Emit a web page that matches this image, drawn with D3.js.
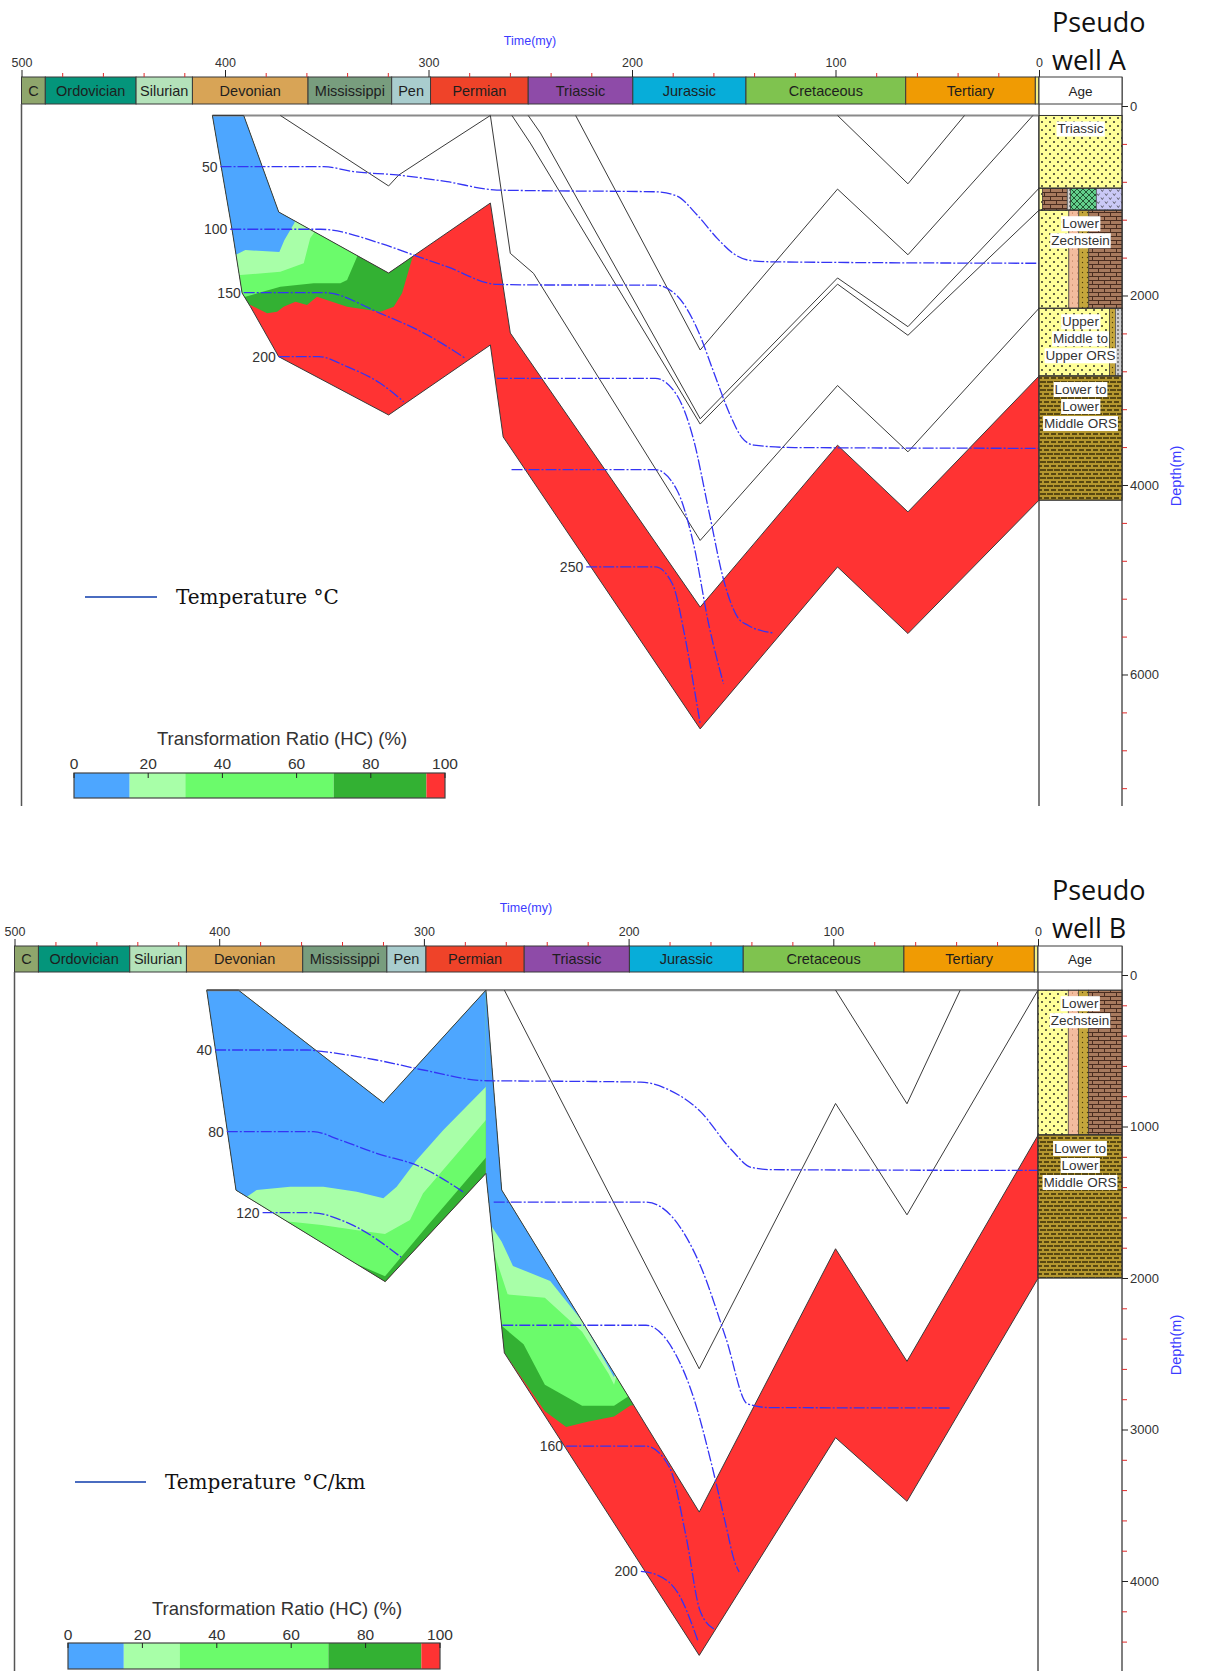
<!DOCTYPE html>
<html>
<head>
<meta charset="utf-8">
<script src="https://cdn.jsdelivr.net/npm/d3@7"></script>
<style>
  body { margin: 0; background: #fff; }
  svg { display: block; }
</style>
</head>
<body>
<svg id="chart" width="1206" height="1671"></svg>
<script>
// ---------- shared stratigraphy ----------
const periods = [
  { name: "C",           start: 500,   end: 488.3, color: "#8fa66c" },
  { name: "Ordovician",  start: 488.3, end: 443.7, color: "#04957b" },
  { name: "Silurian",    start: 443.7, end: 416,   color: "#b4e2ba" },
  { name: "Devonian",    start: 416,   end: 359.2, color: "#d8a456" },
  { name: "Mississippi", start: 359.2, end: 318.1, color: "#789d7e" },
  { name: "Pen",         start: 318.1, end: 299,   color: "#a9cdce" },
  { name: "Permian",     start: 299,   end: 251,   color: "#ef4329" },
  { name: "Triassic",    start: 251,   end: 199.6, color: "#8e4ba8" },
  { name: "Jurassic",    start: 199.6, end: 144,   color: "#07add9" },
  { name: "Cretaceous",  start: 144,   end: 65.5,  color: "#7fc34f" },
  { name: "Tertiary",    start: 65.5,  end: 1.8,   color: "#f09b03" },
  { name: "",            start: 1.8,   end: 0,     color: "#f3ee86" }
];
const timeTicks = [500, 400, 300, 200, 100, 0];
const timeMinorStep = 20;

// transformation ratio classes (%)
const trBreaks = [15, 30, 70, 95];
const trColors = ["#4da6ff", "#a8ffa8", "#6bfb6b", "#33b133", "#ff3333"];
const trTicks = [0, 20, 40, 60, 80, 100];

// ---------- Pseudo well A (time Ma, depth m) ----------
const wellA_surface = 100;
const wellA_sourceTop = [[390.8,100],[373.6,1119],[319.6,1763],[269.6,1024],[259.8,2396],[166.5,5289],[99,3580],[64.4,4284],[0,2850]];
const wellA_sourceBase = [[406.2,100],[396.5,1309],[391.6,1974],[387.5,2118],[373.6,2646],[319.6,3261],[269.6,2522],[263.3,3493],[166.5,6574],[99,4865],[64.4,5568],[0,4160]];
const wellA_horizons = [
  [[372.8,100],[319.6,844],[314.6,728],[295.8,464],[269.6,100]],
  [[269.6,100],[259.8,1555],[248.4,1766],[166.5,4585],[99,2950],[64.4,3650],[0,2135]],
  [[259,100],[250,391],[166.5,3357],[99,1880],[64.4,2420],[0,1100]],
  [[251,100],[245,285],[166.5,3301],[99,1815],[64.4,2329],[0,868]],
  [[227.7,100],[166.5,2575],[99,877],[64.4,1570],[3,100]],
  [[99,100],[64.4,821],[36.6,100]]
];
// zone boundaries: the TR class holds above each line
const wellA_trZones = [
  { tr: 80, pts: [[420,2100],[387.5,2100],[379.3,2188],[374.4,2171],[371.2,2118],[365.4,2065],[359.7,2100],[354.8,2013],[340,2118],[323.6,2171],[317.1,2118],[313,1977],[307.3,1555],[306,1450]] },
  { tr: 50, pts: [[420,2013],[390,2013],[372.8,1907],[364.6,1889],[356.4,1871],[343.3,1871],[340,1836],[335.1,1590],[334,1500]] },
  { tr: 20, pts: [[420,1784],[392.4,1784],[372.8,1749],[361.3,1660],[358.1,1393],[356.4,1344],[355.5,1280]] },
  { tr: 5,  pts: [[420,1573],[394.9,1573],[390,1520],[373.3,1541],[370.8,1414],[365.9,1235],[365,1150]] }
];
const wellA_isotherms = [
  { label: "50",  pts: [[402.2,640],[351.5,640],[336.8,693],[315.5,728],[290.9,799],[266.4,887],[245.1,894],[188.6,905],[178,950],[168,1150],[158,1400],[150,1560],[142,1630],[130,1645],[0,1660]] },
  { label: "100", pts: [[397.4,1301],[353.1,1301],[323.7,1449],[307.3,1573],[290.9,1696],[266.4,1882],[245.1,1889],[188.6,1890],[178,2000],[168,2350],[160,2800],[152,3250],[146,3500],[140,3580],[120,3605],[0,3613]] },
  { label: "150", pts: [[390.8,1970],[351.5,1970],[323.7,2188],[299.1,2434],[281.9,2663]] },
  { label: "",    pts: [[266.4,2874],[188.6,2874],[178,3050],[170,3500],[162,4300],[155,5000],[148,5400],[143,5480],[131,5560]] },
  { label: "200", pts: [[373.6,2646],[354,2646],[340,2751],[323.7,2927],[312.2,3121]] },
  { label: "",    pts: [[259.2,3837],[188.6,3837],[178,4050],[170,4600],[162,5500],[155,6100]] },
  { label: "250", pts: [[222.5,4865],[188.6,4865],[180,5050],[174,5600],[169,6200],[166.5,6520]] }
];
const wellA_units = [
  { name: "Triassic", top: 100, base: 868, label: ["Triassic"], mix: [["sandstone",100]] },
  { name: "Upper Zechstein", top: 868, base: 1100, label: [], mix: [["sandstone",4],["limestone",30],["conglomerate",4],["halite",31],["anhydrite",31]] },
  { name: "Lower Zechstein", top: 1100, base: 2135, label: ["Lower","Zechstein"], mix: [["sandstone",36],["siltstone",12],["marl",12],["limestone",40]] },
  { name: "Upper Middle to Upper ORS", top: 2135, base: 2850, label: ["Upper","Middle to","Upper ORS"], mix: [["sandstone",85],["marl",7],["conglomerate",8]] },
  { name: "Lower to Lower Middle ORS", top: 2850, base: 4160, label: ["Lower to","Lower","Middle ORS"], mix: [["shale",100]] }
];
const wellA_depthTicks = [0, 2000, 4000, 6000];
const wellA_depthMinorStep = 400;

// ---------- Pseudo well B ----------
const wellB_surface = 100;
const wellB_sourceTop = [[390.6,100],[319.8,843],[269.7,100],[262,1419],[165.5,3545],[98.9,1807],[64,2550],[0,1058]];
const wellB_sourceBase = [[406.1,100],[391.8,1420],[318.9,2024],[269.7,1310],[260.7,2494],[165.5,4491],[98.9,3054],[64,3474],[0,2003]];
const wellB_horizons = [
  [[260.7,100],[165.5,2599],[98.9,848],[64,1583],[0,100]],
  [[98.9,100],[64,850],[38,100]]
];
const wellB_trZones = [
  { tr: 80, pts: [[420,6000],[269.7,6000]] },
  { tr: 50, pts: [[420,1898],[334.5,1898],[319,1989],[298.2,1653],[269.7,1205]] },
  { tr: 20, pts: [[420,1618],[372,1618],[350,1650],[330,1690],[319,1710],[306.8,1617],[300.4,1441],[269.7,957]] },
  { tr: 5,  pts: [[420,1472],[387.4,1472],[381.7,1419],[365.4,1397],[349.1,1397],[332.8,1430],[319.8,1474],[313.3,1397],[303.5,1221],[290.5,1023],[269.7,737]] },
  { tr: 80, pts: [[269.7,2300],[260.7,2494],[240.9,2879],[230.5,2984],[220.1,2949],[207.1,2914],[199.3,2844],[194,2830]] },
  { tr: 50, pts: [[269.7,2100],[261.7,2319],[251.3,2438],[240.9,2704],[222.7,2844],[207.1,2844],[199.3,2774],[197,2700]] },
  { tr: 20, pts: [[269.7,1700],[265.9,1828],[259.1,2108],[240.9,2130],[222.7,2354],[209.7,2634],[207.1,2704],[205,2600]] },
  { tr: 5,  pts: [[269.7,1600],[262,1760],[256.5,1920],[238.3,2020],[222.7,2283],[207.1,2655],[205,2550]] }
];
const wellB_isotherms = [
  { label: "40",  pts: [[402,495],[357.3,495],[349.1,506],[323.1,561],[300.3,627],[269.3,698],[248.2,700],[194,707],[180,760],[165,900],[150,1150],[140,1270],[130,1285],[0,1290]] },
  { label: "80",  pts: [[396.3,1034],[354,1034],[341,1089],[323.1,1177],[301.9,1265],[279.9,1440]] },
  { label: "",    pts: [[265.9,1499],[191.5,1499],[178.5,1600],[165.5,1900],[152.4,2400],[142,2830],[131.6,2855],[43.2,2858]] },
  { label: "120", pts: [[378.8,1569],[355.4,1569],[334.5,1653],[311.1,1863]] },
  { label: "",    pts: [[261.7,2312],[191.5,2312],[178,2480],[168,2800],[160,3200],[153,3600],[148,3880],[146,3940]] },
  { label: "160", pts: [[230.5,3110],[191.5,3110],[180,3250],[172,3700],[165,4200],[158,4320]] },
  { label: "200", pts: [[194,3937],[186,3960],[175,4100],[166,4400]] }
];
const wellB_units = [
  { name: "Lower Zechstein", top: 100, base: 1056, label: ["Lower","Zechstein"], mix: [["sandstone",36],["siltstone",12],["marl",12],["limestone",40]] },
  { name: "Lower to Lower Middle ORS", top: 1056, base: 2000, label: ["Lower to","Lower","Middle ORS"], mix: [["shale",100]] }
];
const wellB_depthTicks = [0, 1000, 2000, 3000, 4000];
const wellB_depthMinorStep = 200;

// ---------- drawing ----------
const FONT = "'Liberation Sans', Arial, sans-serif";
const svg = d3.select("#chart").attr("font-family", FONT);
const defs = svg.append("defs");

function addPattern(id, w, h, bg, build) {
  const p = defs.append("pattern").attr("id", id)
    .attr("patternUnits", "userSpaceOnUse").attr("width", w).attr("height", h);
  p.append("rect").attr("width", w).attr("height", h).attr("fill", bg);
  build(p);
}
addPattern("pat-sand", 8, 8, "#ffff99", p => {
  p.append("circle").attr("cx", 2).attr("cy", 2).attr("r", 0.95).attr("fill", "#222");
  p.append("circle").attr("cx", 6).attr("cy", 6).attr("r", 0.95).attr("fill", "#222");
});
addPattern("pat-brick", 12, 8, "#a87a5e", p => {
  p.append("path").attr("d", "M0,0.5H12M0,4.5H12M0.5,0.5V4.5M6.5,4.5V8.5")
    .attr("stroke", "#4a2d20").attr("stroke-width", 1).attr("fill", "none");
});
addPattern("pat-cross", 6, 6, "#63cf8c", p => {
  p.append("path").attr("d", "M0,0L6,6M6,0L0,6").attr("stroke", "#1c4a2a").attr("stroke-width", 0.9);
});
addPattern("pat-lilac", 8, 8, "#cac9f6", p => {
  p.append("path").attr("d", "M1,1.5l1.3,2l1.3,-2M5,5.5l1.3,2l1.3,-2")
    .attr("stroke", "#333").attr("stroke-width", 0.7).attr("fill", "none");
});
addPattern("pat-salmon", 5, 6, "#f3bc9e", p => {
  p.append("circle").attr("cx", 2.5).attr("cy", 3).attr("r", 0.5).attr("fill", "#a06040");
});
addPattern("pat-olive", 5, 5, "#c4a63c", p => {
  p.append("circle").attr("cx", 2.5).attr("cy", 2.5).attr("r", 0.7).attr("fill", "#4a3c0a");
});
addPattern("pat-grey", 4, 4, "#d0d0d0", p => {
  p.append("circle").attr("cx", 2).attr("cy", 2).attr("r", 0.8).attr("fill", "#222");
});
addPattern("pat-shale", 14, 8, "#b4972f", p => {
  p.append("path").attr("d", "M1,2H6M8,2H13M4,6H10M11,6H16M-3,6H3")
    .attr("stroke", "#3a2e06").attr("stroke-width", 1.3).attr("fill", "none");
});
const rockPattern = {
  sandstone: "pat-sand", limestone: "pat-brick", conglomerate: "pat-grey",
  halite: "pat-cross", anhydrite: "pat-lilac", siltstone: "pat-salmon",
  marl: "pat-olive", shale: "pat-shale"
};

const trColor = d3.scaleThreshold().domain(trBreaks).range(trColors);

function drawPanel(L, P) {
  const g = svg.append("g");
  const x = d3.scaleLinear().domain([500, 0]).range([L.x0, L.x1]);
  const y = d3.scaleLinear().domain([0, P.depthMax]).range([L.y0, L.yBottom]);
  const line = d3.line().x(p => x(p[0])).y(p => y(p[1]));
  const smooth = d3.line().x(p => x(p[0])).y(p => y(p[1])).curve(d3.curveMonotoneX);

  // geological time scale bar
  const bar = g.append("g");
  bar.selectAll("rect").data(periods).join("rect")
    .attr("x", p => x(p.start)).attr("y", L.barTop)
    .attr("width", p => x(p.end) - x(p.start)).attr("height", L.barBottom - L.barTop)
    .attr("fill", p => p.color).attr("stroke", "#3a3a3a").attr("stroke-width", 1);
  bar.selectAll("text").data(periods.filter(p => p.name)).join("text")
    .attr("x", p => (x(p.start) + x(p.end)) / 2)
    .attr("y", (L.barTop + L.barBottom) / 2 + 5)
    .attr("text-anchor", "middle").attr("font-size", 14.5).attr("fill", "#1e1e1e")
    .text(p => p.name);

  // time axis
  const minor = d3.range(0, 501, timeMinorStep).filter(v => !timeTicks.includes(v));
  const axMinor = g.append("g").attr("transform", `translate(0,${L.barTop})`)
    .call(d3.axisTop(x).tickValues(minor).tickSize(4).tickFormat(""));
  axMinor.select(".domain").remove();
  axMinor.selectAll("line").attr("stroke", "#e02a2a");
  const axMajor = g.append("g").attr("transform", `translate(0,${L.barTop})`)
    .call(d3.axisTop(x).tickValues(timeTicks).tickSize(7).tickPadding(3).tickFormat(d3.format("d")));
  axMajor.select(".domain").remove();
  axMajor.selectAll("line").attr("stroke", "#222");
  axMajor.selectAll("text").attr("font-size", 12.5).attr("fill", "#333").attr("font-family", FONT);
  g.append("text").attr("x", L.timeTitle[0]).attr("y", L.timeTitle[1])
    .attr("text-anchor", "middle").attr("font-size", 12.5).attr("fill", "#3b3bff").text("Time(my)");

  // frame lines
  g.append("line").attr("x1", L.x0).attr("x2", L.x0).attr("y1", L.barBottom).attr("y2", L.yBottom)
    .attr("stroke", "#555").attr("stroke-width", 1.5);
  g.append("line").attr("x1", L.x1).attr("x2", L.x1).attr("y1", L.barTop).attr("y2", L.yBottom)
    .attr("stroke", "#555").attr("stroke-width", 1.5);
  g.append("line").attr("x1", L.colRight).attr("x2", L.colRight).attr("y1", L.barTop).attr("y2", L.yBottom)
    .attr("stroke", "#555").attr("stroke-width", 1.5);

  // depth axis
  const dMinor = d3.range(0, P.depthMax, P.depthMinorStep).filter(v => !P.depthTicks.includes(v));
  const ayMinor = g.append("g").attr("transform", `translate(${L.colRight},0)`)
    .call(d3.axisRight(y).tickValues(dMinor).tickSize(5).tickFormat(""));
  ayMinor.select(".domain").remove();
  ayMinor.selectAll("line").attr("stroke", "#e02a2a");
  const ayMajor = g.append("g").attr("transform", `translate(${L.colRight},0)`)
    .call(d3.axisRight(y).tickValues(P.depthTicks).tickSize(6).tickPadding(2).tickFormat(d3.format("d")));
  ayMajor.select(".domain").remove();
  ayMajor.selectAll("line").attr("stroke", "#222");
  ayMajor.selectAll("text").attr("font-size", 13).attr("fill", "#333").attr("font-family", FONT);
  g.append("text").attr("transform", `translate(${L.depthTitle[0]},${L.depthTitle[1]}) rotate(-90)`)
    .attr("text-anchor", "middle").attr("font-size", 14.5).attr("fill", "#3b3bff").text("Depth(m)");

  // source rock layer coloured by transformation ratio
  const layerPts = P.sourceTop.concat(P.sourceBase.slice().reverse());
  const clipId = "clip-" + L.id;
  defs.append("clipPath").attr("id", clipId).append("path").attr("d", line(layerPts) + "Z");
  g.append("path").attr("d", line(layerPts) + "Z").attr("fill", trColor(100));
  const zg = g.append("g").attr("clip-path", `url(#${clipId})`);
  P.zones.forEach(z => {
    const pts = z.pts;
    const poly = [[pts[0][0], -3000]].concat(pts, [[pts[pts.length - 1][0], -3000]]);
    zg.append("path").attr("d", line(poly) + "Z").attr("fill", trColor(z.tr));
  });

  // burial-history horizons
  const tOldest = P.sourceBase[0][0];
  g.append("path").attr("d", line([[tOldest, P.surface], [0, P.surface]]))
    .attr("fill", "none").attr("stroke", "#8a8a8a").attr("stroke-width", 2.2);
  g.selectAll(null).data(P.horizons).join("path")
    .attr("d", line).attr("fill", "none").attr("stroke", "#3a3a3a").attr("stroke-width", 1);
  g.append("path").attr("d", line(layerPts) + "Z")
    .attr("fill", "none").attr("stroke", "#3a3a3a").attr("stroke-width", 1);

  // isotherms
  g.selectAll(null).data(P.isotherms).join("path")
    .attr("d", d => smooth(d.pts)).attr("fill", "none")
    .attr("stroke", "#3434f4").attr("stroke-width", 1.3).attr("stroke-dasharray", "11,2,2,2");
  g.selectAll(null).data(P.isotherms.filter(d => d.label)).join("text")
    .attr("x", d => x(d.pts[0][0]) - 3).attr("y", d => y(d.pts[0][1]) + 5)
    .attr("text-anchor", "end").attr("font-size", 14).attr("fill", "#333").text(d => d.label);

  // well column
  g.append("rect").attr("x", L.x1).attr("y", L.barTop).attr("width", L.colRight - L.x1)
    .attr("height", L.barBottom - L.barTop).attr("fill", "#fff").attr("stroke", "#3a3a3a");
  g.append("text").attr("x", (L.x1 + L.colRight) / 2).attr("y", (L.barTop + L.barBottom) / 2 + 5)
    .attr("text-anchor", "middle").attr("font-size", 13.5).attr("fill", "#222").text("Age");
  const colW = L.colRight - L.x1;
  P.units.forEach(u => {
    let acc = 0;
    u.mix.forEach(([rock, pct]) => {
      g.append("rect").attr("x", L.x1 + colW * acc / 100).attr("y", y(u.top))
        .attr("width", colW * pct / 100).attr("height", y(u.base) - y(u.top))
        .attr("fill", `url(#${rockPattern[rock]})`).attr("stroke", "#333").attr("stroke-width", 0.6);
      acc += pct;
    });
    g.append("rect").attr("x", L.x1).attr("y", y(u.top)).attr("width", colW)
      .attr("height", y(u.base) - y(u.top)).attr("fill", "none").attr("stroke", "#333").attr("stroke-width", 1);
    u.label.forEach((txt, i) => {
      const t = g.append("text").attr("x", (L.x1 + L.colRight) / 2).attr("y", y(u.top) + 18 + i * 17)
        .attr("text-anchor", "middle").attr("font-size", 13.5).attr("fill", "#333").text(txt);
      const bb = t.node().getBBox();
      g.insert("rect", () => t.node()).attr("x", bb.x - 1).attr("y", bb.y)
        .attr("width", bb.width + 2).attr("height", bb.height).attr("fill", "#fff");
    });
  });

  // titles and legends
  g.append("text").attr("x", L.title[0]).attr("y", L.title[1])
    .attr("font-family", "'Open Sans', 'Noto Sans', sans-serif").attr("font-size", 27).attr("fill", "#111").text("Pseudo");
  g.append("text").attr("x", L.title[0]).attr("y", L.title[2])
    .attr("font-family", "'Open Sans', 'Noto Sans', sans-serif").attr("font-size", 27).attr("fill", "#111").text(P.name);

  g.append("line").attr("x1", L.legendLine.x0).attr("x2", L.legendLine.x1)
    .attr("y1", L.legendLine.y).attr("y2", L.legendLine.y)
    .attr("stroke", "#4a6cc0").attr("stroke-width", 2.2);
  g.append("text").attr("x", L.legendLine.tx).attr("y", L.legendLine.y + 7)
    .attr("font-family", "'DejaVu Serif', serif").attr("font-size", 20).attr("fill", "#111").text(P.legendText);

  const T = L.trLegend;
  const lx = d3.scaleLinear().domain([0, 100]).range([T.x0, T.x1]);
  const edges = [0].concat(trBreaks, [100]);
  g.selectAll(null).data(d3.range(edges.length - 1)).join("rect")
    .attr("x", i => lx(edges[i])).attr("width", i => lx(edges[i + 1]) - lx(edges[i]))
    .attr("y", T.y).attr("height", T.h).attr("fill", i => trColors[i]);
  g.append("rect").attr("x", T.x0).attr("y", T.y).attr("width", T.x1 - T.x0).attr("height", T.h)
    .attr("fill", "none").attr("stroke", "#444").attr("stroke-width", 1.2);
  g.selectAll(null).data(trTicks).join("line")
    .attr("x1", v => lx(v)).attr("x2", v => lx(v)).attr("y1", T.y).attr("y2", T.y + 5)
    .attr("stroke", "#222");
  g.selectAll(null).data(trTicks).join("text")
    .attr("x", v => lx(v)).attr("y", T.tickY).attr("text-anchor", "middle")
    .attr("font-size", 15.5).attr("fill", "#333").text(v => v);
  g.append("text").attr("x", T.titleX).attr("y", T.titleY).attr("text-anchor", "middle")
    .attr("font-size", 18.5).attr("fill", "#333").text("Transformation Ratio (HC) (%)");
}

drawPanel(
  { id: "A", x0: 21.5, x1: 1039, colRight: 1122, barTop: 77, barBottom: 104, y0: 106, yBottom: 806,
    timeTitle: [530, 45], title: [1052, 32, 70], depthTitle: [1181, 476],
    legendLine: { x0: 85, x1: 157, y: 597, tx: 176 },
    trLegend: { x0: 74, x1: 445, y: 773, h: 25, tickY: 769, titleX: 282, titleY: 745 } },
  { name: "well A", legendText: "Temperature °C", surface: wellA_surface,
    sourceTop: wellA_sourceTop, sourceBase: wellA_sourceBase, horizons: wellA_horizons,
    zones: wellA_trZones, isotherms: wellA_isotherms, units: wellA_units,
    depthTicks: wellA_depthTicks, depthMinorStep: wellA_depthMinorStep, depthMax: 7388 }
);
drawPanel(
  { id: "B", x0: 14.5, x1: 1038, colRight: 1122, barTop: 946, barBottom: 972, y0: 975, yBottom: 1671,
    timeTitle: [526, 912], title: [1052, 900, 938], depthTitle: [1181, 1345],
    legendLine: { x0: 75, x1: 146, y: 1482, tx: 165 },
    trLegend: { x0: 68, x1: 440, y: 1643, h: 26, tickY: 1640, titleX: 277, titleY: 1615 } },
  { name: "well B", legendText: "Temperature °C/km", surface: wellB_surface,
    sourceTop: wellB_sourceTop, sourceBase: wellB_sourceBase, horizons: wellB_horizons,
    zones: wellB_trZones, isotherms: wellB_isotherms, units: wellB_units,
    depthTicks: wellB_depthTicks, depthMinorStep: wellB_depthMinorStep, depthMax: 4594 }
);
</script>
</body>
</html>
